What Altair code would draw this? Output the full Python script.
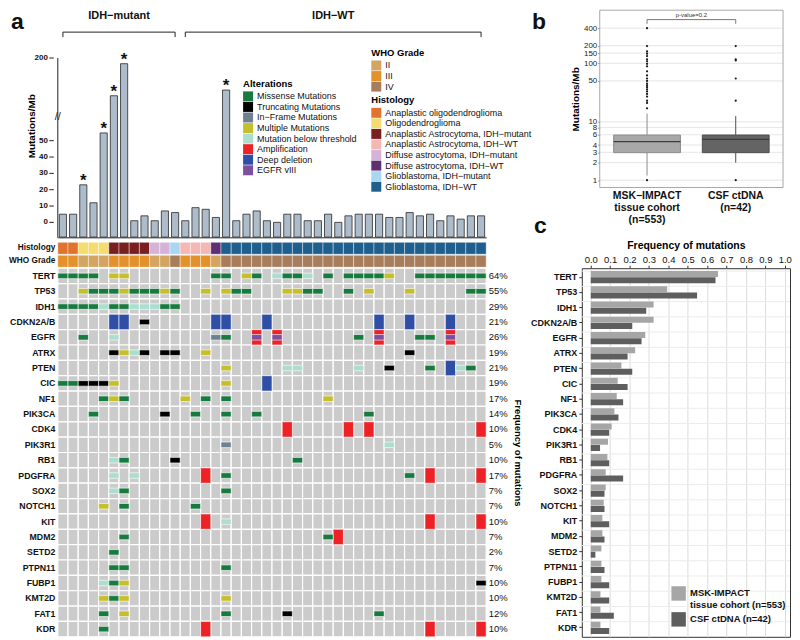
import altair as alt
import pandas as pd

FONT = "Liberation Sans"

# ---------------- panel a : data ----------------
samples = [f"P{i + 1:02d}" for i in range(42)]
mutations_per_mb = [5, 5, 23, 12, 53, 107, 186, 1, 4, 1, 7, 6, 1, 9, 8, 3, 121, 1, 5, 7, 1,
                    0, 5, 5, 1, 1, 5, 0, 4, 5, 5, 5, 3, 3, 6, 4, 5, 1, 4, 2, 4, 4]
starred = [2, 4, 5, 6, 16]
tmb_ticks = [0, 10, 20, 30, 40, 50, 200]

groups = ["IDH−mutant", "IDH−WT"]
group_first = [0, 12]
group_last = [11, 41]

histology_names = ["Anaplastic oligodendroglioma", "Oligodendroglioma",
                   "Anaplastic Astrocytoma, IDH−mutant", "Anaplastic Astrocytoma, IDH−WT",
                   "Diffuse astrocytoma, IDH−mutant", "Diffuse astrocytoma, IDH−WT",
                   "Glioblastoma, IDH−mutant", "Glioblastoma, IDH−WT"]
histology_colors = ["#e2732f", "#f5dc6f", "#7a1f1f", "#f4b7b3", "#d5b2d8", "#5e2f72",
                    "#a9d6f1", "#1f5f8d"]
sample_histology = (["Anaplastic oligodendroglioma"] * 2 + ["Oligodendroglioma"] * 3
                    + ["Anaplastic Astrocytoma, IDH−mutant"] * 4
                    + ["Diffuse astrocytoma, IDH−mutant"] * 2 + ["Glioblastoma, IDH−mutant"]
                    + ["Anaplastic Astrocytoma, IDH−WT"] * 3 + ["Diffuse astrocytoma, IDH−WT"]
                    + ["Glioblastoma, IDH−WT"] * 26)

grade_names = ["II", "III", "IV"]
grade_colors = ["#d3a561", "#e3922b", "#a77d5c"]
sample_grade = (["III"] * 2 + ["II"] * 3 + ["III"] * 4 + ["II"] * 2 + ["IV"]
                + ["III"] * 3 + ["II"] + ["IV"] * 26)
track_names = ["Histology", "WHO Grade"]

alteration_names = ["Missense Mutations", "Truncating Mutations", "In−Frame Mutations",
                    "Multiple Mutations", "Mutation below threshold", "Amplification",
                    "Deep deletion", "EGFR vIII"]
alteration_colors = ["#177a3e", "#000000", "#6f8191", "#c6bf2c", "#abdecf", "#ec2227",
                     "#2f4ea6", "#7d4fa0"]
alteration_codes = {"M": "Missense Mutations", "T": "Truncating Mutations",
                    "I": "In−Frame Mutations", "Y": "Multiple Mutations",
                    "B": "Mutation below threshold", "A": "Amplification", "D": "Deep deletion"}

genes = ["TERT", "TP53", "IDH1", "CDKN2A/B", "EGFR", "ATRX", "PTEN", "CIC", "NF1", "PIK3CA",
         "CDK4", "PIK3R1", "RB1", "PDGFRA", "SOX2", "NOTCH1", "KIT", "MDM2", "SETD2",
         "PTPN11", "FUBP1", "KMT2D", "FAT1", "KDR"]
# one character per sample: M missense, T truncating, I in-frame, Y multiple,
# B below threshold, A amplification, D deep deletion, V amplification + EGFR vIII
alteration_rows = [
    "MMMM.YY........MM.YM.BMMB.M.MMMMY..MMMMMMM",
    "..YMMMYMMMYM..Y.YMM...YYMM..M.Y...Y.....MM",
    "MMMMBMMBBBMM..............................",
    ".....DD.T......DD...D..........D..D...D...",
    "..M..B.........IM..V.V.......M.V...MM.V...",
    ".....TYBT.TT..Y...................T.......",
    "................Y.....BB.....B..T...M.DBM.",
    "MMTTTY..........Y...D.....................",
    "....MYM.....Y.M.M.........Y...............",
    "...M......T..M..M..M..........M...........",
    "......................A.....A.A..........A",
    "................I...............B.........",
    ".....BM....T...........M..................",
    ".....B.B......A.M.................M.A....A",
    ".....BM.........M.........................",
    "....Y.M......M............................",
    "..............A.B...................A....A",
    "......M...................MA..............",
    ".....M....................................",
    ".....MM.........M.........................",
    "....BMY..................................T",
    "....YMY.........Y.........................",
    "....M.Y.........M.....T........M..........",
    "....M.........A.....................A....A",
]

# ---------------- panel b : data ----------------
b_groups = ["MSK−IMPACT|tissue cohort|(n=553)", "CSF ctDNA|(n=42)"]
b_q1 = [2.96, 2.96]
b_median = [4.56, 5.0]
b_q3 = [5.93, 5.93]
b_whisker_low = [1.2, 2.0]
b_whisker_high = [13.8, 12.5]
msk_outliers = [1, 17, 21, 23, 27, 30, 33, 36, 39, 42, 45, 50, 55, 62, 73, 89, 98, 108,
                117, 133, 146, 160, 197, 399]
csf_outliers = [1, 23, 55, 112, 117, 197]
b_ticks = [1, 2, 3, 4, 6, 8, 10, 50, 100, 150, 200, 400]
b_fill = ["#a8a8a8", "#646464"]
b_stroke = ["#8c8c8c", "#4e4e4e"]

# ---------------- panel c : data ----------------
c_series = ["MSK-IMPACT|tissue cohort (n=553)", "CSF ctDNA (n=42)"]
c_colors = ["#a6a6a6", "#5e5e5e"]
msk_freq = [0.656, 0.394, 0.324, 0.324, 0.281, 0.229, 0.158, 0.139, 0.134, 0.122, 0.108,
            0.089, 0.086, 0.077, 0.077, 0.067, 0.060, 0.060, 0.055, 0.055, 0.055, 0.050,
            0.050, 0.050]
csf_freq = [0.643, 0.548, 0.286, 0.214, 0.262, 0.190, 0.214, 0.190, 0.167, 0.143, 0.095,
            0.048, 0.095, 0.167, 0.071, 0.071, 0.095, 0.071, 0.024, 0.071, 0.095, 0.095,
            0.119, 0.095]
c_ticks = [i / 10 for i in range(11)]

# ================= build tables =================
for r in alteration_rows:
    assert len(r) == 42

bars_df = pd.DataFrame({
    "sample": samples,
    "tmb": mutations_per_mb,
    "star": [i in starred for i in range(42)],
})
tick_df = pd.DataFrame({"v": tmb_ticks})
br_df = pd.DataFrame({
    "group": groups,
    "first_s": [samples[i] for i in group_first],
    "last_s": [samples[i] for i in group_last],
    "mid_s": [samples[(a + b + 1) // 2] for a, b in zip(group_first, group_last)],
})
track_df = pd.DataFrame({"sample": samples, "histology": sample_histology,
                         "grade": sample_grade, "t1": track_names[0], "t2": track_names[1]})

bg_rows, full_rows, small_rows = [], [], []
pct = {}
for g, row in zip(genes, alteration_rows):
    n = 0
    for s, c in zip(samples, row):
        bg_rows.append({"gene": g, "sample": s})
        if c == ".":
            continue
        n += 1
        if c == "V":
            full_rows.append({"gene": g, "sample": s, "alt": "Amplification"})
            small_rows.append({"gene": g, "sample": s, "alt": "EGFR vIII"})
        elif c in "AD":
            full_rows.append({"gene": g, "sample": s, "alt": alteration_codes[c]})
        else:
            small_rows.append({"gene": g, "sample": s, "alt": alteration_codes[c]})
    pct[g] = f"{round(100 * n / 42)}%"
bg_df = pd.DataFrame(bg_rows)
full_df = pd.DataFrame(full_rows)
small_df = pd.DataFrame(small_rows)

pct_expr = " : ".join(f"datum.value == '{g}' ? '{p}'" for g, p in pct.items()) + " : ''"

box_df = pd.DataFrame({"group": b_groups, "q1": b_q1, "med": b_median, "q3": b_q3,
                       "lo": b_whisker_low, "hi": b_whisker_high})
out_df = pd.DataFrame({"group": [b_groups[0]] * len(msk_outliers) + [b_groups[1]] * len(csf_outliers),
                       "v": msk_outliers + csf_outliers})
bgrid_df = pd.DataFrame({"v": b_ticks})

freq_df = pd.DataFrame({"gene": genes * 2,
                        "series": [c_series[0]] * 24 + [c_series[1]] * 24,
                        "freq": msk_freq + csf_freq})

one = pd.DataFrame({"t": [0]})
NOSTROKE = alt.ViewBackground(stroke="transparent")
W = 430

# ================= panel a : top (brackets + mutation burden) =================
ysc = alt.Scale(domain=[-11.6, 50, 60, 200, 318], range=[232, 131, 105, 48, 0],
                nice=False, zero=False)
xband = alt.Scale(domain=samples, paddingInner=0.3, paddingOuter=0.15)
xaxis = alt.Axis(labels=False, ticks=False, title=None, domain=True, domainColor="#222",
                 offset=-4)
xb = alt.X("sample:N", scale=xband, axis=xaxis)
yaxis = alt.Axis(title="Mutations/Mb", titleFontWeight="bold", titleFontSize=10,
                 titlePadding=21, labels=False, ticks=False, grid=False, domain=False)
bar_l = alt.Chart(bars_df).mark_bar(fill="#adbccb", stroke="#2a2a2a", strokeWidth=0.8).encode(
    x=xb, y=alt.Y("tmb:Q", scale=ysc, axis=yaxis), y2=alt.datum(-9))
tick_lbl = alt.Chart(tick_df).mark_text(align="right", baseline="middle", fontSize=8,
                                        fontWeight="bold", color="#111").encode(
    x=alt.value(-10), y=alt.Y("v:Q", scale=ysc, axis=yaxis), text=alt.Text("v:Q"))
tick_mk = alt.Chart(tick_df).mark_rule(color="#222", strokeWidth=1).encode(
    x=alt.value(-8.5), x2=alt.value(-4), y=alt.Y("v:Q", scale=ysc, axis=yaxis))
axis_line = alt.Chart(one).mark_rule(color="#222", strokeWidth=1).encode(
    x=alt.value(0), y=alt.YDatum(200, scale=ysc, axis=yaxis), y2=alt.Y2Datum(-9.5))
brk_l = alt.Chart(one).mark_text(text="//", fontSize=11, color="#222").encode(
    x=alt.value(0), y=alt.YDatum(59, scale=ysc, axis=yaxis))
star_l = alt.Chart(bars_df).transform_filter("datum.star").mark_text(
    text="*", fontSize=17, fontWeight="bold", baseline="alphabetic", dy=1, color="#111").encode(
    x=xb, y=alt.Y("tmb:Q", scale=ysc, axis=yaxis))

br_h = alt.Chart(br_df).mark_rule(color="#222", strokeWidth=1).encode(
    x=alt.X("first_s:N", scale=xband, axis=xaxis), x2="last_s:N", y=alt.value(22))
br_v = alt.Chart(br_df).transform_fold(["first_s", "last_s"]).mark_rule(
    color="#222", strokeWidth=1).encode(
    x=alt.X("value:N", scale=xband, axis=xaxis), y=alt.value(22), y2=alt.value(27))
br_t = alt.Chart(br_df).mark_text(fontSize=11, fontWeight="bold", color="#111", dx=-1.5).encode(
    x=alt.X("mid_s:N", scale=xband, axis=xaxis, bandPosition=0), y=alt.value(6),
    text="group:N")
lab_a = alt.Chart(one).mark_text(text="a", fontSize=23, fontWeight="bold", align="left",
                                 baseline="alphabetic", color="#111").encode(
    x=alt.value(-47), y=alt.value(18.5))

top_a = alt.layer(bar_l, tick_mk, tick_lbl, axis_line, brk_l, star_l, br_h, br_v, br_t,
                  lab_a).properties(width=W, height=232, view=NOSTROKE)

# ================= panel a : tracks =================
xcell = alt.X("sample:N", scale=alt.Scale(domain=samples, paddingInner=0, paddingOuter=0),
              axis=None)
tscale = alt.Scale(domain=track_names, paddingInner=0.08, paddingOuter=0)
track_axis = alt.Axis(title=None, ticks=False, domain=False, labelFontWeight="bold",
                      labelFontSize=8.3, labelPadding=3, labelColor="#111")


def legend(x, y, title):
    return alt.Legend(orient="none", legendX=x, legendY=y, title=title,
                      direction="vertical", symbolType="square", symbolSize=100,
                      symbolStrokeWidth=0, labelFontSize=9, titleFontSize=9.5,
                      titleFontWeight="bold", rowPadding=0.6, titlePadding=3,
                      labelLimit=0, labelOffset=4, padding=0, labelColor="#111")


hist = alt.Chart(track_df).mark_rect(stroke="white", strokeWidth=0.4).encode(
    x=xcell, y=alt.Y("t1:N", scale=tscale, axis=track_axis),
    color=alt.Color("histology:N", scale=alt.Scale(domain=histology_names, range=histology_colors),
                    legend=legend(314.7, -147.5, "Histology")))
grade = alt.Chart(track_df).mark_rect(stroke="white", strokeWidth=0.4).encode(
    x=xcell, y=alt.Y("t2:N", scale=tscale, axis=track_axis),
    color=alt.Color("grade:N", scale=alt.Scale(domain=grade_names, range=grade_colors),
                    legend=legend(314.7, -195, "WHO Grade")))
tracks = alt.layer(hist, grade).resolve_scale(color="independent").properties(
    width=W, height=25, view=NOSTROKE)

# ================= panel a : oncoprint =================
gscale = alt.Scale(domain=genes, paddingInner=0, paddingOuter=0)
alt_color = alt.Color("alt:N", scale=alt.Scale(domain=alteration_names, range=alteration_colors),
                      legend=legend(186, -190, "Alterations"))
bg = alt.Chart(bg_df).mark_rect(fill="#cbcbcb", stroke="white", strokeWidth=1.2).encode(
    x=xcell,
    y=alt.Y("gene:N", scale=gscale,
            axis=alt.Axis(orient="left", title=None, ticks=False, domain=False,
                          labelFontWeight="bold", labelFontSize=8.8, labelPadding=3,
                          labelColor="#111")))
full = alt.Chart(full_df).mark_rect(stroke="white", strokeWidth=0.6).encode(
    x=xcell, y=alt.Y("gene:N", scale=gscale, axis=None), color=alt_color)
small = alt.Chart(small_df).mark_rect(stroke="white", strokeWidth=0.6,
                                      height={"band": 0.36}).encode(
    x=xcell, y=alt.Y("gene:N", scale=gscale, axis=None), color=alt_color)
pct_l = alt.Chart(bg_df).mark_rect(opacity=0).encode(
    x=xcell,
    y=alt.Y("gene:N", scale=gscale,
            axis=alt.Axis(orient="right", title="Frequency of mutations", titleAngle=90,
                          titleFontWeight="bold", titleFontSize=9.5, titlePadding=5,
                          labelExpr=pct_expr, ticks=False, domain=False, labelFontSize=9.5,
                          labelPadding=2, labelColor="#111")))
onco = alt.layer(bg, full, small, pct_l).resolve_scale(y="independent").properties(
    width=W, height=370, view=NOSTROKE)

# ================= panel b =================
BW = 209
bx = alt.X("group:N", scale=alt.Scale(domain=b_groups, range=[18, 202], paddingInner=0.247,
                                      paddingOuter=0.157),
           axis=alt.Axis(title=None, labelExpr="split(datum.label, '|')", labelAngle=0,
                         labelFontWeight="bold", labelFontSize=10.5, labelLineHeight=12,
                         ticks=False, domain=False, labelPadding=3, labelLimit=0,
                         labelColor="#111"))
bys = alt.Scale(type="log", domain=[0.75, 811], nice=False)
b_yaxis = alt.Axis(values=b_ticks, format="d", grid=False, tickSize=2, labelPadding=1,
                   labelFontSize=8, domain=False, title="Mutations/Mb",
                   titleFontWeight="bold", titleFontSize=10, titlePadding=3,
                   labelColor="#222", tickColor="#888", offset=-18, labelOverlap=False)
bfill = alt.Color("group:N", scale=alt.Scale(domain=b_groups, range=b_fill), legend=None)
bstroke = alt.Stroke("group:N", scale=alt.Scale(domain=b_groups, range=b_stroke), legend=None)
b_grid = alt.Chart(bgrid_df).mark_rule(color="#e6e6e6", strokeWidth=1).encode(
    y=alt.Y("v:Q", scale=bys, axis=b_yaxis), x=alt.value(18), x2=alt.value(202))
b_frame = alt.Chart(one).mark_rect(fillOpacity=0, stroke="#a8a8a8", strokeWidth=1).encode(
    x=alt.value(18), x2=alt.value(202), y=alt.value(0), y2=alt.value(178))
wh1 = alt.Chart(box_df).mark_rule(strokeWidth=1).encode(
    x=bx, y=alt.Y("lo:Q", scale=bys, axis=b_yaxis), y2="q1:Q", stroke=bstroke)
wh2 = alt.Chart(box_df).mark_rule(strokeWidth=1).encode(
    x=bx, y=alt.Y("q3:Q", scale=bys, axis=b_yaxis), y2="hi:Q", stroke=bstroke)
box = alt.Chart(box_df).mark_bar(strokeWidth=1).encode(
    x=bx, y=alt.Y("q1:Q", scale=bys, axis=b_yaxis), y2="q3:Q", color=bfill, stroke=bstroke)
med = alt.Chart(box_df).mark_bar(stroke="#3c3c3c", strokeWidth=1.2).encode(
    x=bx, y=alt.Y("med:Q", scale=bys, axis=b_yaxis), y2="med:Q")
outs = alt.Chart(out_df).mark_circle(size=5, color="#1a1a1a", opacity=1).encode(
    x=bx, y=alt.Y("v:Q", scale=bys, axis=b_yaxis))
pv_h = alt.Chart(one).mark_rule(color="#555", strokeWidth=0.8).encode(
    x=alt.datum(b_groups[0]), x2=alt.datum(b_groups[1]), y=alt.datum(560))
pv_v = alt.Chart(box_df).mark_rule(color="#555", strokeWidth=0.8).encode(
    x=bx, y=alt.datum(475), y2=alt.datum(560))
pv_t = alt.Chart(one).mark_text(text="p-value=0.2", fontSize=6, color="#333",
                                baseline="bottom").encode(x=alt.value(110), y=alt.datum(600))
lab_b = alt.Chart(one).mark_text(text="b", fontSize=23, fontWeight="bold", align="left",
                                 baseline="alphabetic", color="#111").encode(
    x=alt.value(-50), y=alt.value(18.5))
panel_b = alt.layer(b_grid, b_frame, wh1, wh2, box, med, outs, pv_h, pv_v, pv_t, lab_b).properties(
    width=BW, height=178, view=NOSTROKE)

spacer = alt.Chart(one).mark_point(opacity=0).encode(
    x=alt.X("t:Q", axis=None), y=alt.Y("t:Q", axis=None)).properties(
    width=1, height=25, view=NOSTROKE)

# ================= panel c =================
cy_scale = alt.Scale(domain=genes, paddingInner=0.2, paddingOuter=0.19)
c_axis = alt.Axis(title=None, labelFontWeight="bold", labelFontSize=9, tickSize=3,
                  labelPadding=2, domain=False, grid=False, labelColor="#111",
                  tickColor="#333")
cx = alt.X("freq:Q", scale=alt.Scale(domain=[-0.046, 1.027], nice=False, zero=False),
           axis=alt.Axis(orient="top", values=c_ticks, format=".1f",
                         grid=True, gridColor="#dcdcdc", tickSize=3, labelFontSize=9.5,
                         labelPadding=1, title="Frequency of mutations", titleFontWeight="bold",
                         titleFontSize=10.5, titlePadding=4, domain=False, labelColor="#111",
                         tickColor="#333"))
c_rules = alt.Chart(pd.DataFrame({"gene": genes})).mark_rule(color="#ececec", strokeWidth=1).encode(
    y=alt.Y("gene:N", bandPosition=0, scale=cy_scale, axis=c_axis))
c_bars = alt.Chart(freq_df).mark_bar().encode(
    y=alt.Y("gene:N", scale=cy_scale, axis=c_axis), x=cx,
    yOffset=alt.YOffset("series:N", scale=alt.Scale(domain=c_series, paddingInner=0.05)),
    color=alt.Color("series:N", scale=alt.Scale(domain=c_series, range=c_colors),
                    legend=alt.Legend(orient="none", legendX=89.7, legendY=319, title=None,
                                      direction="vertical", symbolType="square", symbolSize=210,
                                      symbolStrokeWidth=0, labelFontSize=9.5,
                                      labelFontWeight="bold", labelExpr="split(datum.label, '|')",
                                      rowPadding=2, labelLimit=0,
                                      labelOffset=4, padding=0, labelColor="#111")))
lab_c = alt.Chart(one).mark_text(text="c", fontSize=23, fontWeight="bold", align="left",
                                 baseline="alphabetic", color="#111").encode(
    x=alt.value(-48), y=alt.value(-35))
panel_c = alt.layer(c_rules, c_bars, lab_c).properties(
    width=BW, height=370, view=alt.ViewBackground(stroke="#333", strokeWidth=1))

chart = alt.concat(top_a, panel_b, tracks, spacer, onco, panel_c, columns=2,
                   spacing={"row": 1, "column": 96}, bounds="flush").resolve_scale(
    color="independent").properties(
    padding={"left": 0, "top": 0, "right": 0, "bottom": 0}).configure(
    font=FONT).configure_view(strokeWidth=0).configure_axis(labelOverlap=False)

chart.save("out.html", embed_options={"renderer": "svg", "actions": False})
